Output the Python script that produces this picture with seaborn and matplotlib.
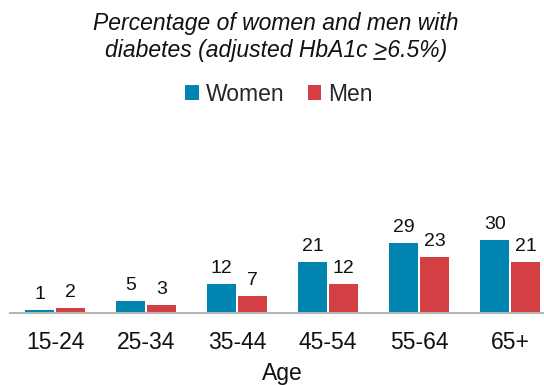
import numpy as np
import pandas as pd
import seaborn as sns
import matplotlib.pyplot as plt
from matplotlib.lines import Line2D

# data
age_groups = ["15-24", "25-34", "35-44", "45-54", "55-64", "65+"]
women = [1, 5, 12, 21, 29, 30]
men = [2, 3, 7, 12, 23, 21]
series = ["Women", "Men"]
colors = ["#0085B0", "#D43F43"]

df = pd.DataFrame({
    "Age": age_groups * 2,
    "value": women + men,
    "sex": ["Women"] * len(age_groups) + ["Men"] * len(age_groups),
})

sns.set_theme(style="white")
plt.rcParams["font.family"] = ["Liberation Sans", "DejaVu Sans"]

fig = plt.figure(figsize=(5.44, 3.85), dpi=100)
ax = fig.add_axes([0.0175, 0.188, 1.004, 0.40])

sns.barplot(data=df, x="Age", y="value", hue="sex", hue_order=series,
            palette=colors, saturation=1, width=0.68, gap=0.06,
            linewidth=0, ax=ax, errorbar=None)

for cont in ax.containers:
    ax.bar_label(cont, fmt="%d", padding=5, fontsize=14, color="#111111")

ax.set_xlim(-0.5, 5.5)
ax.set_ylim(0, 64)
ax.set_yticks([])
ax.set_ylabel("")
for s in ["top", "right", "left"]:
    ax.spines[s].set_visible(False)
ax.spines["bottom"].set_color("#B5B5B5")
ax.spines["bottom"].set_linewidth(1.5)
ax.tick_params(axis="x", labelsize=16.5, pad=13, length=0, colors="#111111")
ax.set_xlabel("Age", fontsize=16.5, labelpad=6, color="#111111")

# legend under the title
handles, labels = ax.get_legend_handles_labels()
ax.legend(handles, labels, loc="center", bbox_to_anchor=(0.513, 0.755),
          bbox_transform=fig.transFigure, ncol=2, frameon=False,
          fontsize=16.5, handlelength=0.6, handleheight=0.6,
          handletextpad=0.3, columnspacing=1.0)

title_kw = dict(ha="center", va="center", fontsize=16.5, style="italic",
                color="#111111")
fig.text(0.507, 0.938, "Percentage of women and men with", **title_kw)
line2 = "diabetes (adjusted HbA1c >6.5%)"
t2 = fig.text(0.507, 0.870, line2, **title_kw)

# underline the ">" sign (greater than or equal)
fig.canvas.draw()
r = fig.canvas.get_renderer()
bb = t2.get_window_extent(r)
prefix = fig.text(0, 0, "diabetes (adjusted HbA1c ", fontsize=16.5,
                  style="italic")
sign = fig.text(0, 0, ">", fontsize=16.5, style="italic")
w_pre = prefix.get_window_extent(r).width
w_sign = sign.get_window_extent(r).width
prefix.remove()
sign.remove()
x0 = (bb.x0 + w_pre) / fig.bbox.width
x1 = (bb.x0 + w_pre + w_sign) / fig.bbox.width
yl = (bb.y0 + 3) / fig.bbox.height
fig.add_artist(Line2D([x0, x1 - 0.004], [yl, yl], transform=fig.transFigure,
                      color="#111111", linewidth=1.3))

fig.savefig("out.png", dpi=100)
